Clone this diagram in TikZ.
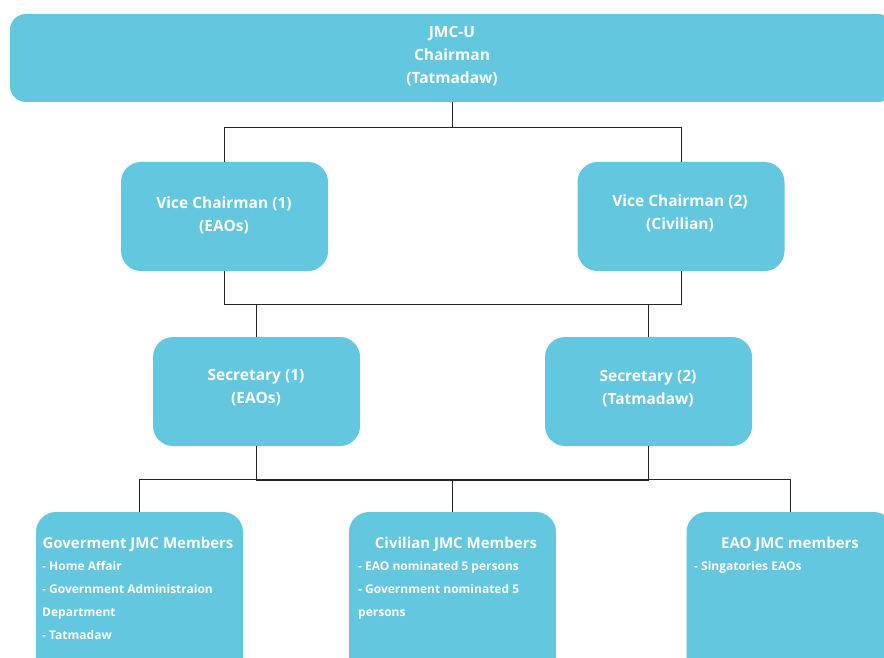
\documentclass[tikz,border=0pt]{standalone}
\usepackage{fontspec}
\setmainfont{Open Sans}
\definecolor{boxc}{RGB}{99,199,224}
\tikzset{
  orgbox/.style={fill=boxc, draw=none, rounded corners=20pt, inner sep=0pt, minimum width=207pt, minimum height=109pt},
  conn/.style={draw=black!85, line width=0.9pt},
  title/.style={text=white, font=\bfseries\fontsize{15.5}{23}\selectfont, align=center, inner sep=0pt},
  head/.style={text=white, font=\bfseries\fontsize{15}{23}\selectfont, anchor=base, inner sep=0pt},
  item/.style={text=white, font=\bfseries\fontsize{12}{23}\selectfont, anchor=base west, inner sep=0pt},
}
\begin{document}
\begin{tikzpicture}[x=1pt,y=-1pt]
\useasboundingbox (0,0) rectangle (884,658);
\clip (0,0) rectangle (884,658);
% boxes
\node[orgbox, rounded corners=16pt, minimum width=884pt, minimum height=88pt] (top) at (452,58) {};
\node[orgbox] (vc1) at (224.5,216.5) {};
\node[orgbox] (vc2) at (681,216.5) {};
\node[orgbox] (sec1) at (256.5,391.5) {};
\node[orgbox] (sec2) at (648.5,391.5) {};
\node[orgbox, minimum height=170pt] (gov) at (139.5,597) {};
\node[orgbox, minimum height=170pt] (civ) at (452.5,597) {};
\node[orgbox, minimum height=170pt] (eao) at (790,597) {};
% texts
\node[title] (ttop) at (452,56.5) {JMC-U\\Chairman\\(Tatmadaw)};
\node[title] (tvc1) at (224,215) {Vice Chairman (1)\\(EAOs)};
\node[title] (tvc2) at (680,213) {Vice Chairman (2)\\(Civilian)};
\node[title] (tsec1) at (256,387.5) {Secretary (1)\\(EAOs)};
\node[title] (tsec2) at (648,388.5) {Secretary (2)\\(Tatmadaw)};
\node[head] (hgov) at (138,548.5) {Goverment JMC Members};
\node[head] (hciv) at (456,548.5) {Civilian JMC Members};
\node[head] (heao) at (790,548.5) {EAO JMC members};
\node[item] (g1) at (42,570.5) {- Home Affair};
\node[item] (g2) at (42,593.5) {- Government Administraion};
\node[item] (g3) at (42,616.5) {Department};
\node[item] (g4) at (42,639.5) {- Tatmadaw};
\node[item] (c1) at (358,570.5) {- EAO nominated 5 persons};
\node[item] (c2) at (358,593.5) {- Government nominated 5};
\node[item] (c3) at (358,616.5) {persons};
\node[item] (e1) at (694,570.5) {- Singatories EAOs};
% connectors
\draw[conn] (top.south) -- ++(0,26);
\draw[conn] (vc1.north) -- ++(0,-34) -| (vc2.north);
\draw[conn] (vc1.south) -- ++(0,33) -| (vc2.south);
\draw[conn] (sec1.north) -- ++(0,-33);
\draw[conn] (sec2.north) -- ++(0,-33);
\draw[conn] (sec1.south) -- ++(0,34) -| (sec2.south);
\draw[conn] (gov.north) -- ++(0,-32) -| (eao.north);
\draw[conn] (civ.north) -- ++(0,-32);
\end{tikzpicture}
\end{document}
